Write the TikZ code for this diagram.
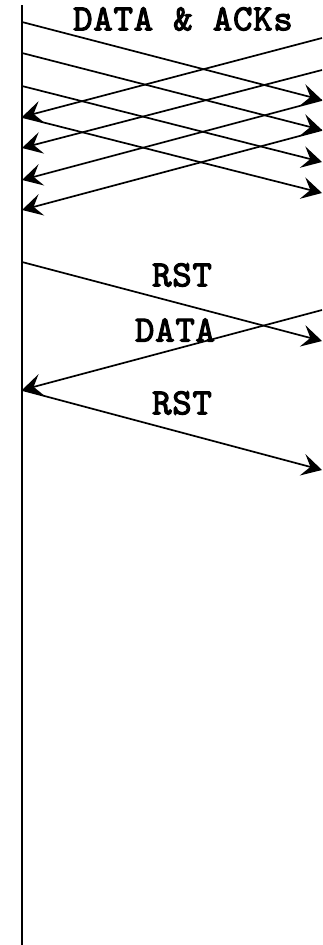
\documentclass[tikz,border=0pt]{standalone}
\usepackage{fontspec}
\usepackage{tikz}
\usetikzlibrary{arrows.meta}
\newfontfamily\pktfont{lmmono10-regular}[Extension=.otf, FakeBold=3, LetterSpace=2]
\tikzstyle{pkt}=[line width=1.7pt, -{Stealth[length=20pt, width=22pt, inset=8pt]}]
\tikzstyle{lbl}=[font=\fontsize{37}{37}\pktfont, inner sep=0pt]

\begin{document}
\begin{tikzpicture}[x=1pt, y=-1pt]
                \useasboundingbox (0, 0) rectangle (322, 945);
                \coordinate (top) at (22, 5);
                \coordinate (bot) at (22, 945);
                \coordinate (a1) at (22, 22);
                \coordinate (a2) at (22, 53);
                \coordinate (a3) at (22, 86);
                \coordinate (a4) at (22, 117);
                \coordinate (a5) at (22, 148);
                \coordinate (a6) at (22, 180);
                \coordinate (a7) at (22, 210);
                \coordinate (a8) at (22, 262);
                \coordinate (a9) at (22, 390);
                \coordinate (b1) at (322, 38);
                \coordinate (b2) at (322, 70);
                \coordinate (b3) at (322, 100);
                \coordinate (b4) at (322, 130);
                \coordinate (b5) at (322, 162);
                \coordinate (b6) at (322, 193);
                \coordinate (b7) at (322, 310);
                \coordinate (b8) at (322, 341);
                \coordinate (b9) at (322, 470);
                \node[lbl] (da) at (183, 19) {DATA \& ACKs};
                \node[lbl] (rst1) at (182, 275) {RST};
                \node[lbl] (dat) at (175, 330) {DATA};
                \node[lbl] (rst2) at (182, 403) {RST};
                \draw[line width=2.3pt] (top)--(bot);
                \draw[pkt] (a1)--(b3);
                \draw[pkt] (a2)--(b4);
                \draw[pkt] (a3)--(b5);
                \draw[pkt] (a4)--(b6);
                \draw[pkt] (b1)--(a4);
                \draw[pkt] (b2)--(a5);
                \draw[pkt] (b3)--(a6);
                \draw[pkt] (b4)--(a7);
                \draw[pkt] (a8)--(b8);
                \draw[pkt] (b7)--(a9);
                \draw[pkt] (a9)--(b9);
            \end{tikzpicture}
\end{document}
